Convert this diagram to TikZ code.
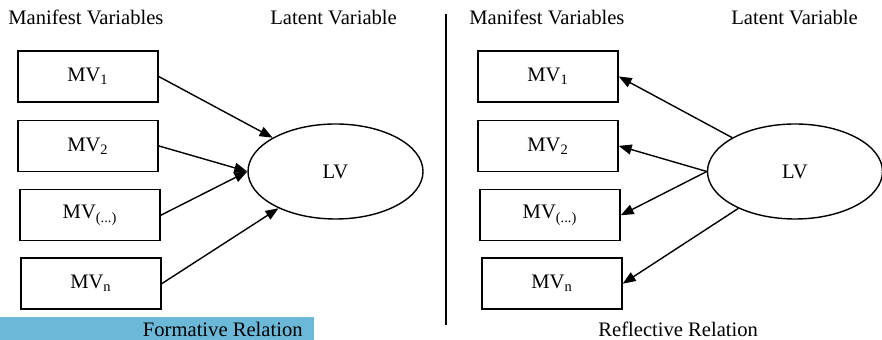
\documentclass[tikz,border=0pt]{standalone}
\usepackage{fontspec}
\setmainfont{Liberation Serif}
\usetikzlibrary{shapes.geometric, arrows.meta, positioning}
\definecolor{barblue}{HTML}{6CB8D8}

\begin{document}
\begin{tikzpicture}[x=0.5pt, y=-0.5pt, >={Triangle[length=6.5pt, width=5pt]}, font=\fontsize{10.3}{12}\selectfont]
    \tikzstyle{mvbox} = [rectangle, draw, line width=0.7pt, minimum width=70pt, minimum height=25.5pt, inner sep=0pt]
    \tikzstyle{lvnode} = [ellipse, draw, line width=0.7pt, minimum width=87.5pt, minimum height=47.5pt, inner sep=0pt]
    \tikzstyle{heading} = [anchor=base west, inner sep=0pt]
    \tikzstyle{link} = [draw, ->, line width=0.7pt]

    \useasboundingbox (0,0) rectangle (882,340);

    % formative relation
    \node [heading] (mvheadf) at (8,25) {Manifest Variables};
    \node [heading] (lvheadf) at (270,25) {Latent Variable};
    \node [mvbox] (mvf1) at (88,76.5) {MV\textsubscript{1}};
    \node [mvbox, below=8.5pt of mvf1] (mvf2) {MV\textsubscript{2}};
    \node [mvbox, below=8.5pt of mvf2, xshift=1pt] (mvfd) {MV\textsubscript{(...)}};
    \node [mvbox, below=8pt of mvfd, xshift=0.5pt] (mvfn) {MV\textsubscript{n}};
    \node [lvnode] (lvf) at (335.5,171.5) {LV};

    \path [link] (mvf1.east) -- (lvf);
    \path [link] (mvf2.east) -- (lvf.west);
    \path [link] (mvfd.east) -- (lvf.west);
    \path [link] (mvfn.east) -- (lvf);

    \node [fill=barblue, minimum width=157pt, minimum height=11.5pt, inner sep=0pt, anchor=north west] (formbar) at (0,317) {};
    \node [anchor=base east, inner sep=0pt] (formlabel) at (303,337) {Formative Relation};

    % separator
    \draw [line width=0.7pt] (446,14) -- (446,325);

    % reflective relation
    \node [heading] (mvheadr) at (469,25) {Manifest Variables};
    \node [heading] (lvheadr) at (731,25) {Latent Variable};
    \node [mvbox] (mvr1) at (548,76.5) {MV\textsubscript{1}};
    \node [mvbox, below=8.5pt of mvr1] (mvr2) {MV\textsubscript{2}};
    \node [mvbox, below=8.5pt of mvr2, xshift=1pt] (mvrd) {MV\textsubscript{(...)}};
    \node [mvbox, below=8pt of mvrd, xshift=1pt] (mvrn) {MV\textsubscript{n}};
    \node [lvnode] (lvr) at (795,171.5) {LV};

    \path [link] (lvr) -- (mvr1.east);
    \path [link] (lvr.west) -- (mvr2.east);
    \path [link] (lvr.west) -- (mvrd.east);
    \path [link] (lvr) -- (mvrn.east);

    \node [anchor=base west, inner sep=0pt] (refllabel) at (598,337) {Reflective Relation};
\end{tikzpicture}
\end{document}
